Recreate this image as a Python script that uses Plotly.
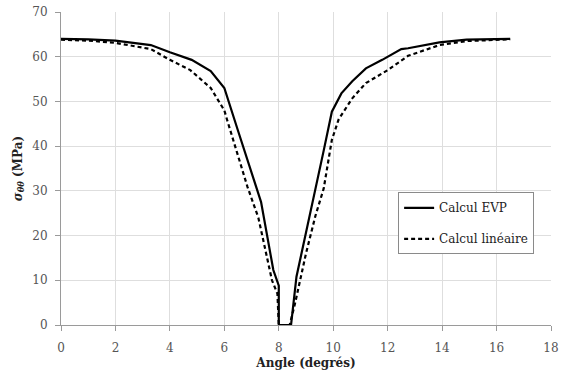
import plotly.graph_objects as go

# Data
x_evp = [0, 1, 2, 3.3, 4.0, 4.8, 5.5, 6.0, 6.5, 7.0, 7.35, 7.8, 8.0, 8.0, 8.45, 8.65, 9.0, 9.35, 9.65, 9.95, 10.3, 10.7, 11.2, 11.8, 12.5, 12.75, 13.9, 14.9, 16.5]
y_evp = [64.0, 63.9, 63.6, 62.6, 61.0, 59.3, 56.8, 53.0, 43.5, 34.0, 27.5, 12.3, 8.8, 0, 0, 10.8, 20.5, 30.0, 39.0, 47.7, 51.8, 54.5, 57.4, 59.3, 61.7, 61.9, 63.2, 63.8, 64.0]

x_lin = [0, 1, 2, 3.3, 4.0, 4.75, 5.5, 6.0, 6.1, 6.85, 7.25, 7.75, 7.95, 8.0, 8.4, 8.6, 9.0, 9.35, 9.65, 9.95, 10.2, 10.7, 11.2, 12.0, 12.75, 13.9, 14.9, 16.5]
y_lin = [63.8, 63.6, 63.1, 61.7, 59.3, 57.0, 53.0, 48.0, 45.9, 30.9, 24.0, 10.0, 7.0, 0, 0, 4.9, 16.0, 24.5, 30.5, 41.4, 46.0, 50.7, 54.1, 57.0, 60.2, 62.6, 63.5, 63.9]

x_ticks = [0, 2, 4, 6, 8, 10, 12, 14, 16, 18]
y_ticks = [0, 10, 20, 30, 40, 50, 60, 70]

FONT = "DejaVu Serif"

fig = go.Figure()
fig.add_trace(go.Scatter(x=x_evp, y=y_evp, mode="lines", name="Calcul EVP",
                         legendgroup="a",
                         line=dict(color="black", width=2.2)))
fig.add_trace(go.Scatter(x=x_lin, y=y_lin, mode="lines", name="Calcul linéaire",
                         legendgroup="b",
                         line=dict(color="black", width=2.2, dash="4px,3px")))

axis_common = dict(
    showgrid=True, gridcolor="#dedede", gridwidth=1,
    showline=True, linecolor="#9a9a9a", linewidth=1,
    ticks="outside", ticklen=5, tickcolor="#9a9a9a",
    tickfont=dict(family=FONT, size=12, color="#555"),
    zeroline=False, automargin=False,
)

fig.update_xaxes(range=[0, 18], tickvals=x_ticks, ticklabelstandoff=7, **axis_common,
                 title=dict(text="<b>Angle (degrés)</b>", standoff=4,
                            font=dict(family=FONT, size=12, color="#222")))
fig.update_yaxes(range=[0, 70], tickvals=y_ticks, ticklabelstandoff=5, **axis_common,
                 title=dict(text="<b><i>σ</i><sub><i>θθ</i></sub> (MPa)</b>", standoff=7,
                            font=dict(family=FONT, size=12, color="#222")))

fig.update_layout(
    width=561, height=372,
    margin=dict(l=61, r=10, t=12, b=47),
    plot_bgcolor="white", paper_bgcolor="white",
    font=dict(family=FONT, size=12, color="#222"),
    legend=dict(x=0.688, y=0.424, xanchor="left", yanchor="top",
                bgcolor="white", bordercolor="#8a8a8a", borderwidth=1,
                font=dict(family=FONT, size=12, color="#222"),
                tracegroupgap=12, itemwidth=30),
    showlegend=True,
)

fig.write_html("out.html", config={"displayModeBar": False},
               post_script="document.body.style.margin='0';document.body.style.overflow='hidden';")
